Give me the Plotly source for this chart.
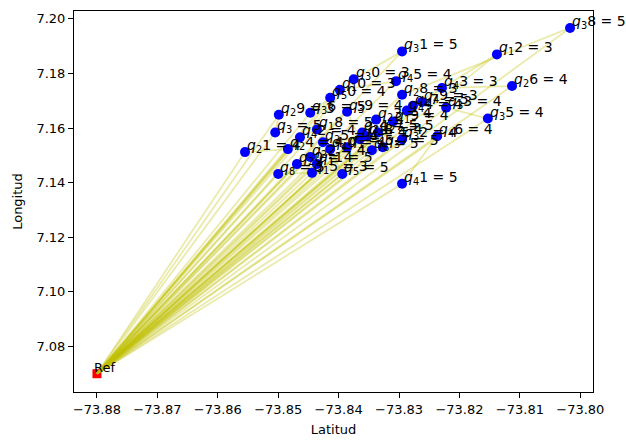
import plotly.graph_objects as go

# Depot / reference location
ref_lon = -73.88
ref_lat = 7.07

# Customer nodes: id, demand, coordinates
node_ids = [38, 31, 12, 30, 45, 10, 50, 28, 43, 26, 35, 49, 47, 33, 44,
            23, 19, 29, 36, 39, 3, 18, 42, 21, 24, 25, 9, 48, 1, 37,
            32, 46, 27, 34, 22, 11, 20, 8, 15, 5, 41, 40, 6]
demands = [5, 5, 3, 3, 4, 3, 4, 3, 3, 4, 4, 3, 5, 4, 4,
           4, 4, 3, 5, 4, 5, 5, 4, 4, 4, 4, 4, 4, 5, 5,
           4, 4, 5, 5, 4, 5, 4, 5, 3, 5, 5, 4, 5]
lons = [-73.8017, -73.8295, -73.8138, -73.8375, -73.8305, -73.8398, -73.8414,
        -73.8295, -73.8229, -73.8113, -73.8153, -73.8262, -73.8277, -73.8222,
        -73.8287, -73.8338, -73.8310, -73.8499, -73.8447, -73.8386, -73.8505,
        -73.8436, -73.8464, -73.8555, -73.8484, -73.8426, -73.8365, -73.8353,
        -73.8386, -73.8327, -73.8295, -73.8237, -73.8335, -73.8361, -73.8447,
        -73.8436, -73.8469, -73.8500, -73.8444, -73.8394, -73.8295, -73.8414,
        -73.8345]
lats = [7.1967, 7.1881, 7.1870, 7.1779, 7.1772, 7.1740, 7.1711,
        7.1722, 7.1747, 7.1754, 7.1635, 7.1696, 7.1682, 7.1675,
        7.1664, 7.1631, 7.1624, 7.1649, 7.1656, 7.1660, 7.1584,
        7.1595, 7.1566, 7.1512, 7.1523, 7.1548, 7.1559, 7.1570,
        7.1530, 7.1530, 7.1559, 7.1570, 7.1584, 7.1584, 7.1494,
        7.1468, 7.1468, 7.1432, 7.1436, 7.1432, 7.1396, 7.1523,
        7.1519]

# Vehicle routes (each starts and ends at the reference location)
routes = [
    [38, 28], [31, 30], [12, 47], [26, 43], [35, 33], [45, 10],
    [41, 46], [49, 44], [50, 36], [29, 3], [23, 19], [39, 9],
    [18, 42], [21, 24], [25, 48], [1, 37], [32, 27], [34, 22],
    [11, 20], [8, 15], [5, 40], [6],
]

pos = {n: (x, y) for n, x, y in zip(node_ids, lons, lats)}
FONT = "DejaVu Sans"

fig = go.Figure()

# Reference marker
fig.add_trace(go.Scatter(
    x=[ref_lon], y=[ref_lat], mode="markers",
    marker=dict(symbol="square", size=9, color="red"),
    showlegend=False, hoverinfo="skip"))

# Route polylines
for r in routes:
    xs = [ref_lon] + [pos[n][0] for n in r] + [ref_lon]
    ys = [ref_lat] + [pos[n][1] for n in r] + [ref_lat]
    fig.add_trace(go.Scatter(
        x=xs, y=ys, mode="lines",
        line=dict(color="rgba(191,191,0,0.33)", width=1.8),
        showlegend=False, hoverinfo="skip"))

# Customer markers
fig.add_trace(go.Scatter(
    x=lons, y=lats, mode="markers",
    marker=dict(size=10, color="blue"),
    showlegend=False, hoverinfo="skip"))


def node_label(n, d):
    s = str(n)
    return f"<i>q</i><sub>{s[0]}</sub>{s[1:]} = {d}"


annotations = []
for n, d, x, y in zip(node_ids, demands, lons, lats):
    annotations.append(dict(
        x=x, y=y, xref="x", yref="y", text=node_label(n, d),
        showarrow=False, xanchor="left", yanchor="bottom",
        yshift=-5, font=dict(family=FONT, size=14, color="black")))
annotations.append(dict(
    x=ref_lon, y=ref_lat, xref="x", yref="y", text="Ref",
    showarrow=False, xanchor="left", yanchor="bottom",
    xshift=-5, yshift=-3, font=dict(family=FONT, size=13, color="black")))

axis_common = dict(
    showgrid=False, zeroline=False, showline=True, linecolor="black",
    linewidth=1, mirror=True, ticks="outside", ticklen=5, tickwidth=1,
    tickcolor="black", tickfont=dict(family=FONT, size=13, color="black"),
    tickformat=".2f")

fig.update_layout(
    width=626, height=445,
    margin=dict(l=74, r=33, t=10, b=49),
    plot_bgcolor="white", paper_bgcolor="white",
    annotations=annotations,
    xaxis=dict(range=[-73.8838, -73.7979], tick0=-73.88, dtick=0.01,
               title=dict(text="Latitud", standoff=9,
                          font=dict(family=FONT, size=13, color="black")),
               **axis_common),
    yaxis=dict(range=[7.0633, 7.2029], tick0=7.08, dtick=0.02,
               title=dict(text="Longitud", standoff=10,
                          font=dict(family=FONT, size=13, color="black")),
               **axis_common),
)

fig.write_html("out.html")
